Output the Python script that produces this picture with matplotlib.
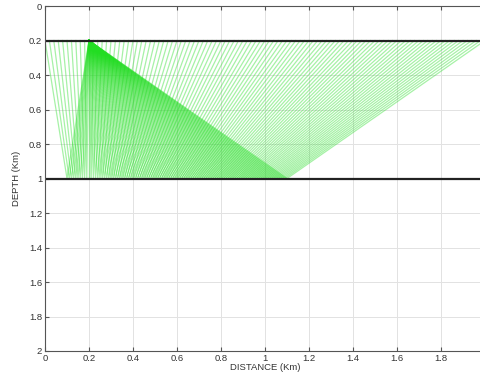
import matplotlib
matplotlib.use("Agg")
import matplotlib.pyplot as plt

plt.rcParams['font.family'] = ['Liberation Sans', 'DejaVu Sans']

# source position (km)
source_x = 0.2
source_depth = 0.2
# interfaces (km)
top_depth = 0.2
reflector_depth = 1.0
# reflection points on the reflector (km)
bounce_x = [0.10, 0.11, 0.12, 0.13, 0.14, 0.15, 0.16, 0.17, 0.18, 0.19,
            0.20, 0.21, 0.22, 0.23, 0.24, 0.25, 0.26, 0.27, 0.28, 0.29,
            0.30, 0.31, 0.32, 0.33, 0.34, 0.35, 0.36, 0.37, 0.38, 0.39,
            0.40, 0.41, 0.42, 0.43, 0.44, 0.45, 0.46, 0.47, 0.48, 0.49,
            0.50, 0.51, 0.52, 0.53, 0.54, 0.55, 0.56, 0.57, 0.58, 0.59,
            0.60, 0.61, 0.62, 0.63, 0.64, 0.65, 0.66, 0.67, 0.68, 0.69,
            0.70, 0.71, 0.72, 0.73, 0.74, 0.75, 0.76, 0.77, 0.78, 0.79,
            0.80, 0.81, 0.82, 0.83, 0.84, 0.85, 0.86, 0.87, 0.88, 0.89,
            0.90, 0.91, 0.92, 0.93, 0.94, 0.95, 0.96, 0.97, 0.98, 0.99,
            1.00, 1.01, 1.02, 1.03, 1.04, 1.05, 1.06, 1.07, 1.08, 1.09, 1.10]
# emergence points at the upper interface (km)
surface_x = [0.00, 0.02, 0.04, 0.06, 0.08, 0.10, 0.12, 0.14, 0.16, 0.18,
             0.20, 0.22, 0.24, 0.26, 0.28, 0.30, 0.32, 0.34, 0.36, 0.38,
             0.40, 0.42, 0.44, 0.46, 0.48, 0.50, 0.52, 0.54, 0.56, 0.58,
             0.60, 0.62, 0.64, 0.66, 0.68, 0.70, 0.72, 0.74, 0.76, 0.78,
             0.80, 0.82, 0.84, 0.86, 0.88, 0.90, 0.92, 0.94, 0.96, 0.98,
             1.00, 1.02, 1.04, 1.06, 1.08, 1.10, 1.12, 1.14, 1.16, 1.18,
             1.20, 1.22, 1.24, 1.26, 1.28, 1.30, 1.32, 1.34, 1.36, 1.38,
             1.40, 1.42, 1.44, 1.46, 1.48, 1.50, 1.52, 1.54, 1.56, 1.58,
             1.60, 1.62, 1.64, 1.66, 1.68, 1.70, 1.72, 1.74, 1.76, 1.78,
             1.80, 1.82, 1.84, 1.86, 1.88, 1.90, 1.92, 1.94, 1.96, 1.98, 2.00]

x_ticks = [0, 0.2, 0.4, 0.6, 0.8, 1, 1.2, 1.4, 1.6, 1.8, 2]
x_tick_labels = ['0', '0.2', '0.4', '0.6', '0.8', '1', '1.2', '1.4', '1.6', '1.8', '2']
y_ticks = [0, 0.2, 0.4, 0.6, 0.8, 1, 1.2, 1.4, 1.6, 1.8, 2]
y_tick_labels = ['0', '0.2', '0.4', '0.6', '0.8', '1', '1.2', '1.4', '1.6', '1.8', '2']

fig = plt.figure(figsize=(4.8, 3.81), dpi=100)
ax = fig.add_axes([45/480, 1 - 351/381, 440/480, 345/381])

for bx, sx in zip(bounce_x, surface_x):
    ax.plot([source_x, bx, sx], [source_depth, reflector_depth, top_depth],
            color='#22dd22', lw=0.9, alpha=0.4, solid_joinstyle='miter')

ax.axhline(top_depth, color='#222222', lw=1.6)
ax.axhline(reflector_depth, color='#222222', lw=1.6)

ax.set_xlim(0, 2)
ax.set_ylim(2, 0)
ax.set_xticks(x_ticks)
ax.set_xticklabels(x_tick_labels)
ax.set_yticks(y_ticks)
ax.set_yticklabels(y_tick_labels)
ax.grid(True, color='#e2e2e2', lw=0.7)
ax.set_axisbelow(True)
ax.tick_params(direction='in', length=3, labelsize=6.8, top=True, right=True,
               color='#555555', labelcolor='#333333', pad=2)
for s in ax.spines.values():
    s.set_color('#555555')
    s.set_linewidth(0.8)
ax.set_xlabel('DISTANCE (Km)', fontsize=6.8, color='#333333', labelpad=0)
ax.set_ylabel('DEPTH (Km)', fontsize=6.8, color='#333333', labelpad=6)

fig.savefig('out.png', dpi=100)
